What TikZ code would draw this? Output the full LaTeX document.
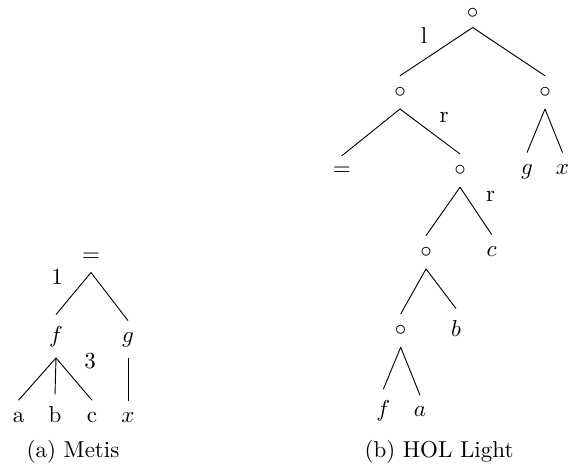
\documentclass[tikz,border=0pt]{standalone}
\usepackage{tikz}
\tikzset{
  tnode/.style={anchor=base,inner xsep=1pt,inner ysep=4.8pt},
  elab/.style={anchor=base,inner sep=0pt},
  capt/.style={anchor=base,inner sep=0pt},
  branch/.style={draw=black,line width=0.4pt},
}

\begin{document}
\begin{tikzpicture}[x=0.4348pt,y=-0.4348pt]
  \useasboundingbox (0,0) rectangle (568,469);
  % (a) Metis
  \node[tnode] (meq) at (91,261) {$=$};
  \node[tnode] (mf) at (56,342) {$f$};
  \node[tnode] (mg) at (128,342) {$g$};
  \node[tnode] (ma) at (18.5,422) {a};
  \node[tnode] (mb) at (55,422) {b};
  \node[tnode] (mc) at (92,422) {c};
  \node[tnode] (mx) at (128,422) {$x$};
  \node[elab] (mone) at (57,284) {1};
  \node[elab] (mthree) at (90,368) {3};
  \draw[branch] (meq.south) -- (mf.north);
  \draw[branch] (meq.south) -- (mg.north);
  \draw[branch] (mf.south) -- (ma.north);
  \draw[branch] (mf.south) -- (mb.north);
  \draw[branch] (mf.south) -- (mc.north);
  \draw[branch] (mg.south) -- (mx.north);
  \node[capt] (capa) at (73,457) {(a) Metis};
  % (b) HOL Light
  \node[tnode,inner ysep=0pt] (h0) at (472.7,18) {$\circ$};
  \coordinate (h0s) at (472.7,27.5);
  \node[tnode] (hl) at (400,97.5) {$\circ$};
  \node[tnode] (hr) at (545,97.5) {$\circ$};
  \node[tnode] (heq) at (341.7,175.8) {$=$};
  \node[tnode] (hm) at (460,175.7) {$\circ$};
  \node[tnode] (hg) at (527,174) {$g$};
  \node[tnode] (hx) at (562.5,174) {$x$};
  \node[tnode] (hn) at (426,257.4) {$\circ$};
  \node[tnode] (hc) at (491.7,256) {$c$};
  \node[tnode] (ho) at (400.7,335.7) {$\circ$};
  \node[tnode] (hb) at (456,336) {$b$};
  \node[tnode] (hf) at (383.3,416.7) {$f$};
  \node[tnode] (ha) at (420,416.7) {$a$};
  \node[elab] (hll) at (424,43) {l};
  \node[elab] (hr1) at (444,122) {r};
  \node[elab] (hr2) at (490.7,201) {r};
  \draw[branch] (h0s) -- (hl.north);
  \draw[branch] (h0s) -- (hr.north);
  \draw[branch] (hl.south) -- (heq.north);
  \draw[branch] (hl.south) -- (hm.north);
  \draw[branch] (hr.south) -- (hg.north);
  \draw[branch] (hr.south) -- (hx.north);
  \draw[branch] (hm.south) -- (hn.north);
  \draw[branch] (hm.south) -- (hc.north);
  \draw[branch] (hn.south) -- (ho.north);
  \draw[branch] (hn.south) -- (hb.north);
  \draw[branch] (ho.south) -- (hf.north);
  \draw[branch] (ho.south) -- (ha.north);
  \node[capt] (capb) at (439,457) {(b) HOL Light};
\end{tikzpicture}
\end{document}
